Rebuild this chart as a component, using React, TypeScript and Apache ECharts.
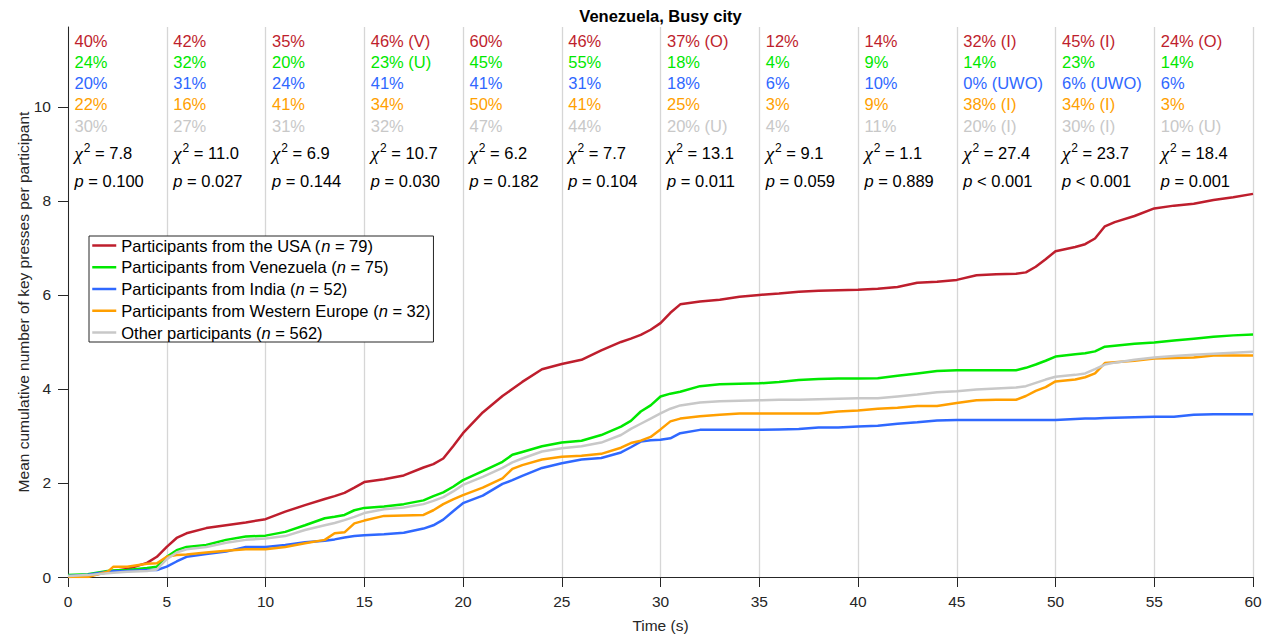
import React, { useEffect, useRef } from "react";
import * as echarts from "echarts";

// ---- data ----
const TIMES = [0,1,2,2.3,3, 4,4.5,5,5.5,6, 7,8,9,10,11, 12,13,13.5,14,14.5, 15,16,17,18,18.5, 19,19.5,20,21,22, 22.5,23,24,25,26, 27,28,28.5,29,29.5, 30,30.5,31,32,33, 34,35,36,37,38, 39,40,41,42,43, 44,45,46,47,48, 48.5,49,49.5,50,51, 51.5,52,52.5,53,54, 55,56,57,58,59, 60];

const USA = [0,0.02,0.1,0.13,0.17, 0.3,0.43,0.64,0.83,0.93, 1.04,1.1,1.16,1.23,1.39, 1.53,1.66,1.72,1.79,1.9, 2.02,2.08,2.16,2.33,2.4, 2.52,2.78,3.06,3.5,3.85, 4.0,4.15,4.42,4.53,4.62, 4.82,5.0,5.07,5.15,5.26, 5.4,5.62,5.8,5.86,5.9, 5.96,6.0,6.03,6.07,6.09, 6.1,6.11,6.13,6.17,6.26, 6.28,6.32,6.42,6.44,6.45, 6.48,6.6,6.76,6.93,7.02, 7.08,7.2,7.46,7.55,7.68, 7.84,7.9,7.94,8.02,8.08, 8.15];
const VENEZUELA = [0.04,0.06,0.13,0.14,0.15, 0.19,0.22,0.43,0.57,0.64, 0.68,0.79,0.86,0.88,0.96, 1.1,1.25,1.28,1.32,1.42, 1.47,1.5,1.55,1.63,1.72, 1.8,1.92,2.06,2.25,2.45, 2.6,2.66,2.78,2.86,2.9, 3.02,3.2,3.32,3.52,3.65, 3.84,3.9,3.94,4.06,4.1, 4.11,4.12,4.15,4.19,4.21, 4.22,4.22,4.23,4.28,4.33, 4.38,4.4,4.4,4.4,4.4, 4.45,4.52,4.6,4.69,4.74, 4.76,4.8,4.9,4.92,4.96, 4.99,5.03,5.07,5.11,5.14, 5.16];
const INDIA = [0.02,0.05,0.11,0.12,0.13, 0.15,0.15,0.22,0.33,0.43, 0.49,0.54,0.64,0.64,0.68, 0.74,0.77,0.8,0.84,0.87, 0.89,0.91,0.94,1.03,1.1, 1.22,1.4,1.57,1.73,1.98, 2.06,2.15,2.32,2.42,2.5, 2.53,2.65,2.76,2.88,2.91, 2.92,2.95,3.06,3.13,3.13, 3.13,3.13,3.14,3.15,3.18, 3.18,3.2,3.22,3.26,3.29, 3.33,3.34,3.34,3.34,3.34, 3.34,3.34,3.34,3.34,3.36, 3.37,3.37,3.38,3.39,3.4, 3.41,3.41,3.45,3.46,3.46, 3.46];
const WESTERN_EUROPE = [0,0,0.11,0.22,0.22, 0.28,0.29,0.43,0.47,0.48, 0.52,0.56,0.59,0.59,0.64, 0.72,0.79,0.93,0.95,1.14, 1.2,1.3,1.31,1.32,1.42, 1.55,1.65,1.74,1.9,2.1, 2.3,2.38,2.5,2.56,2.58, 2.62,2.75,2.85,2.9,2.98, 3.14,3.31,3.37,3.42,3.45, 3.48,3.48,3.48,3.48,3.48, 3.52,3.54,3.58,3.6,3.64, 3.64,3.7,3.76,3.77,3.77, 3.85,3.96,4.04,4.16,4.2, 4.25,4.33,4.55,4.57,4.6, 4.65,4.66,4.67,4.71,4.71, 4.71];
const OTHER = [0.02,0.04,0.08,0.09,0.11, 0.13,0.16,0.38,0.52,0.59, 0.64,0.73,0.79,0.82,0.87, 1.0,1.1,1.15,1.21,1.28, 1.36,1.44,1.48,1.55,1.62, 1.7,1.82,1.96,2.13,2.32, 2.44,2.52,2.67,2.74,2.78, 2.86,3.02,3.15,3.26,3.37, 3.48,3.58,3.65,3.71,3.74, 3.75,3.76,3.77,3.77,3.78, 3.79,3.8,3.8,3.84,3.88, 3.93,3.95,3.99,4.01,4.03, 4.06,4.13,4.2,4.26,4.3, 4.33,4.42,4.52,4.56,4.62, 4.67,4.7,4.73,4.75,4.77, 4.79];

const SERIES_NAMES = [
  "Participants from the USA",
  "Participants from Venezuela",
  "Participants from India",
  "Participants from Western Europe",
  "Other participants",
];
const SERIES_N = [79, 75, 52, 32, 562];

const Y_TICKS = [0, 2, 4, 6, 8, 10];
const COLUMN_STARTS = [0, 5, 10, 15, 20, 25, 30, 35, 40, 45, 50, 55];
const PCT_USA = ["40%", "42%", "35%", "46% (V)", "60%", "46%", "37% (O)", "12%", "14%", "32% (I)", "45% (I)", "24% (O)"];
const PCT_VENEZUELA = ["24%", "32%", "20%", "23% (U)", "45%", "55%", "18%", "4%", "9%", "14%", "23%", "14%"];
const PCT_INDIA = ["20%", "31%", "24%", "41%", "41%", "31%", "18%", "6%", "10%", "0% (UWO)", "6% (UWO)", "6%"];
const PCT_WESTERN_EUROPE = ["22%", "16%", "41%", "34%", "50%", "41%", "25%", "3%", "9%", "38% (I)", "34% (I)", "3%"];
const PCT_OTHER = ["30%", "27%", "31%", "32%", "47%", "44%", "20% (U)", "4%", "11%", "20% (I)", "30% (I)", "10% (U)"];
const CHI2 = ["7.8", "11.0", "6.9", "10.7", "6.2", "7.7", "13.1", "9.1", "1.1", "27.4", "23.7", "18.4"];
const P_VALUES = ["= 0.100", "= 0.027", "= 0.144", "= 0.030", "= 0.182", "= 0.104", "= 0.011", "= 0.059", "= 0.889", "< 0.001", "< 0.001", "= 0.001"];

// ---- styles / layout ----
const COLORS = ["#BE1E2D", "#00E800", "#2F68FF", "#FF9F00", "#C8C8C8"];
const FONT = '"Liberation Sans", Arial, Helvetica, sans-serif';
const AXIS_COLOR = "#262626";
const ROW_Y = [11.4, 10.955, 10.51, 10.055, 9.6, 9.01, 8.43]; // annotation rows, in axis units
const TEXT_DX = 6.5;
const FS = 16.5;

export default function App() {
  const ref = useRef<HTMLDivElement>(null);

  useEffect(() => {
    const chart = echarts.init(ref.current as HTMLDivElement, null, { renderer: "svg" });
    const seriesValues = [USA, VENEZUELA, INDIA, WESTERN_EUROPE, OTHER];

    const option: any = {
      animation: false,
      backgroundColor: "#ffffff",
      grid: { left: 68, right: 20, top: 27, bottom: 62, containLabel: false, outerBoundsMode: "none" },
      xAxis: {
        type: "value",
        min: 0,
        max: 60,
        interval: 5,
        name: "Time (s)",
        nameLocation: "middle",
        nameGap: 40,
        nameMoveOverlap: false,
        nameTextStyle: { fontFamily: FONT, fontSize: 15.5, color: AXIS_COLOR },
        axisLine: { show: true, onZero: false, lineStyle: { color: AXIS_COLOR, width: 1 } },
        axisTick: { show: true, inside: false, length: 10, lineStyle: { color: AXIS_COLOR, width: 1 } },
        axisLabel: { fontFamily: FONT, fontSize: 15.5, color: AXIS_COLOR, margin: 16 },
        splitLine: { show: true, lineStyle: { color: "#D6D6D6", width: 1.3 } },
      },
      yAxis: {
        type: "value",
        min: 0,
        max: 11.7,
        interval: 2,
        name: "Mean cumulative number of key presses per participant",
        nameLocation: "middle",
        nameGap: 37,
        nameMoveOverlap: false,
        nameTextStyle: { fontFamily: FONT, fontSize: 15.5, color: AXIS_COLOR },
        axisLine: { show: true, onZero: false, lineStyle: { color: AXIS_COLOR, width: 1 } },
        axisTick: { show: true, inside: false, length: 10, lineStyle: { color: AXIS_COLOR, width: 1 }, customValues: Y_TICKS },
        axisLabel: { fontFamily: FONT, fontSize: 15.5, color: AXIS_COLOR, margin: 17, customValues: Y_TICKS },
        splitLine: { show: false },
      },
      legend: {
        orient: "vertical",
        left: 89,
        top: 236,
        data: SERIES_NAMES,
        itemWidth: 24,
        itemHeight: 16,
        itemGap: 4.75,
        padding: [1, 3, 1, 2],
        backgroundColor: "#ffffff",
        borderColor: AXIS_COLOR,
        borderWidth: 1,
        borderRadius: 0,
        selectedMode: false,
        itemStyle: { color: "rgba(0,0,0,0)", borderWidth: 0, opacity: 0 },
        lineStyle: { width: 2.5 },
        formatter: (name: string) => {
          const idx = SERIES_NAMES.indexOf(name);
          return `${name} ({i|n} = ${SERIES_N[idx]})`;
        },
        textStyle: {
          fontFamily: FONT,
          fontSize: FS,
          color: "#000000",
          lineHeight: 16,
          rich: { i: { fontFamily: FONT, fontSize: FS, fontStyle: "italic", color: "#000000", lineHeight: 16 } },
        },
      },
      series: seriesValues.map((vals, i) => ({
        name: SERIES_NAMES[i],
        type: "line",
        data: TIMES.map((t, j) => [t, vals[j]]),
        showSymbol: false,
        symbol: "none",
        lineStyle: { color: COLORS[i], width: 2.5 },
        itemStyle: { color: COLORS[i] },
        z: 2 + i,
      })),
    };
    chart.setOption(option);

    const elements: any[] = [];
    const titlePt = chart.convertToPixel({ gridIndex: 0 }, [30, 11.7]) as number[];
    elements.push({
      type: "text",
      x: titlePt[0],
      y: 16,
      style: {
        text: "Venezuela, Busy city",
        fontFamily: FONT,
        fontSize: FS,
        fontWeight: "bold",
        fill: "#000000",
        align: "center",
        verticalAlign: "middle",
        textAlign: "center",
        textVerticalAlign: "middle",
      },
      z: 10,
    });

    const pctRows = [PCT_USA, PCT_VENEZUELA, PCT_INDIA, PCT_WESTERN_EUROPE, PCT_OTHER];
    COLUMN_STARTS.forEach((t, c) => {
      pctRows.forEach((row, r) => {
        const pt = chart.convertToPixel({ gridIndex: 0 }, [t, ROW_Y[r]]) as number[];
        elements.push({
          type: "text",
          x: pt[0] + TEXT_DX,
          y: pt[1],
          style: {
            text: row[c],
            fontFamily: FONT,
            fontSize: FS,
            fill: COLORS[r],
            align: "left",
            verticalAlign: "middle",
            textAlign: "left",
            textVerticalAlign: "middle",
          },
          z: 10,
        });
      });
      const chiPt = chart.convertToPixel({ gridIndex: 0 }, [t, ROW_Y[5]]) as number[];
      elements.push({
        type: "text",
        x: chiPt[0] + TEXT_DX,
        y: chiPt[1],
        style: {
          text: `{c|χ}{s|2}{t| = ${CHI2[c]}}`,
          fontFamily: FONT,
          fontSize: FS,
          fill: "#000000",
          align: "left",
          verticalAlign: "middle",
          textAlign: "left",
          textVerticalAlign: "middle",
          rich: {
            c: { fontFamily: '"Liberation Serif", "DejaVu Serif", serif', fontStyle: "italic", fontSize: 19, lineHeight: 22, fill: "#000000" },
            s: { fontFamily: FONT, fontSize: 12, lineHeight: 12, verticalAlign: "top", fill: "#000000", padding: [0, 0, 0, 1] },
            t: { fontFamily: FONT, fontSize: FS, lineHeight: 22, fill: "#000000" },
          },
        },
        z: 10,
      });
      const pPt = chart.convertToPixel({ gridIndex: 0 }, [t, ROW_Y[6]]) as number[];
      elements.push({
        type: "text",
        x: pPt[0] + TEXT_DX,
        y: pPt[1],
        style: {
          text: `{i|p}{t| ${P_VALUES[c]}}`,
          fontFamily: FONT,
          fontSize: FS,
          fill: "#000000",
          align: "left",
          verticalAlign: "middle",
          textAlign: "left",
          textVerticalAlign: "middle",
          rich: {
            i: { fontFamily: FONT, fontStyle: "italic", fontSize: FS, lineHeight: 20, fill: "#000000" },
            t: { fontFamily: FONT, fontSize: FS, lineHeight: 20, fill: "#000000" },
          },
        },
        z: 10,
      });
    });
    chart.setOption({ graphic: { elements } });

    return () => chart.dispose();
  }, []);

  return (
    <div
      ref={ref}
      style={{ position: "absolute", left: 0, top: 0, width: 1273, height: 639, background: "#ffffff" }}
    />
  );
}
